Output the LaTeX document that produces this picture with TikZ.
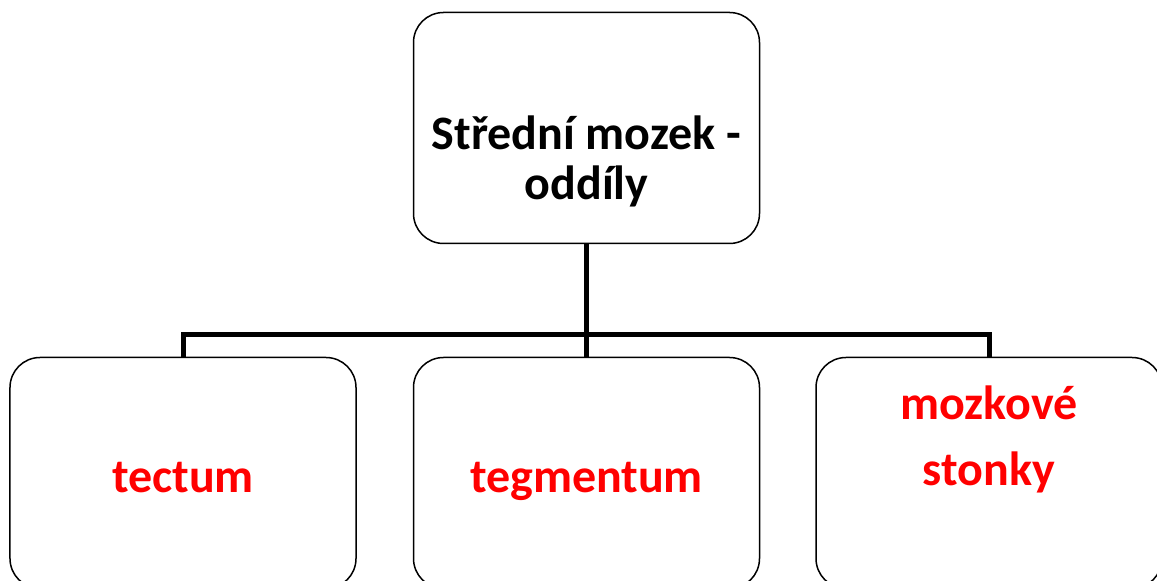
\documentclass[tikz,border=0pt]{standalone}
\usepackage{fontspec}
\setmainfont{Carlito}
\usepackage{tikz}
\usetikzlibrary{positioning}

\tikzset{
    box/.style={draw, line width=1.5bp, rounded corners=30bp, minimum width=346bp, minimum height=231bp, inner sep=0pt},
    conn/.style={line width=5bp},
    title/.style={font=\fontsize{48bp}{50bp}\selectfont\bfseries, align=center, anchor=base},
    part/.style={font=\fontsize{48bp}{66bp}\selectfont\bfseries, text=red, align=center, anchor=base}
}

\begin{document}
\begin{tikzpicture}[x=1bp, y=1bp]
    \clip (0,0) rectangle (1157,581);
    \useasboundingbox (0,0) rectangle (1157,581);
    % Boxes
    \node[box] (midbrain) at (586.5,453) {};
    \node[box] (tectum) at (183,108) {};
    \node[box] (tegmentum) at (586.5,108) {};
    \node[box] (stalks) at (989,108) {};
    % Texts
    \node[title] (midbraintext) at (586.5,381) {Střední mozek -\\oddíly};
    \node[part] (tectumtext) at (183,88) {tectum};
    \node[part] (tegmentumtext) at (586.5,88) {tegmentum};
    \node[part] (stalkstext) at (989,95) {mozkové\\stonky};
    % Connectors
    \coordinate (bar) at (0,246);
    \draw[conn] (midbrain.south) -- (tegmentum.north);
    \draw[conn] (tectum.north) -- (tectum.north |- bar) -- (stalks.north |- bar) -- (stalks.north);
\end{tikzpicture}
\end{document}
